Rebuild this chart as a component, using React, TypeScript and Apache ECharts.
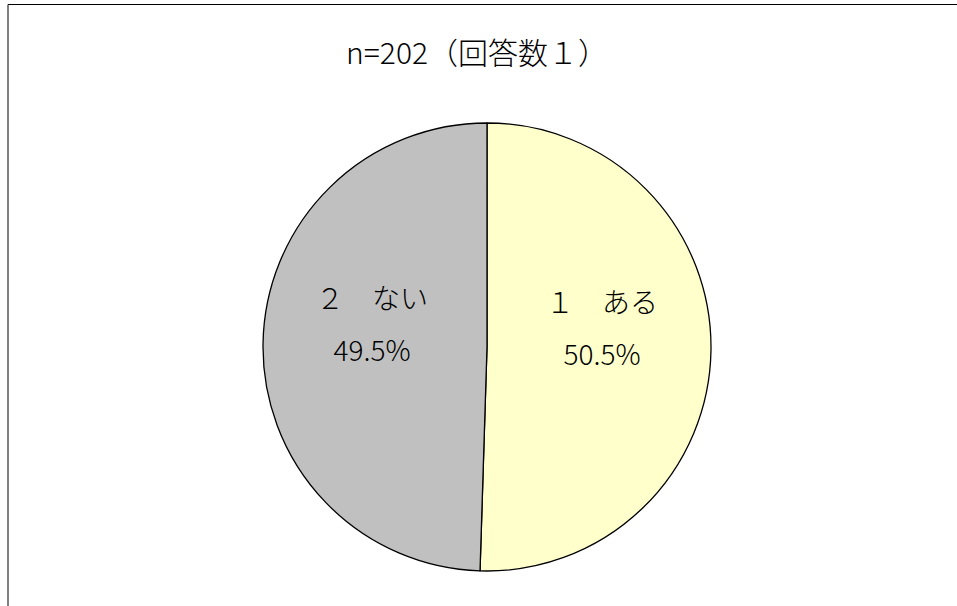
import React, { useEffect, useRef } from "react";
import * as echarts from "echarts";

const categories = ["１　ある", "２　ない"];
const counts = [102, 100];
const percents = ["50.5%", "49.5%"];
const colors = ["#FFFFCC", "#C0C0C0"];
const titleText = "n=202（回答数１）";

export default function App() {
  const ref = useRef<HTMLDivElement>(null);
  useEffect(() => {
    document.body.style.margin = "0";
    const chart = echarts.init(ref.current!, undefined, { renderer: "svg" });
    const font = "'Noto Sans CJK JP', 'Noto Sans', sans-serif";
    chart.setOption({
      animation: false,
      backgroundColor: "#ffffff",
      title: {
        text: titleText,
        left: 472,
        top: 31,
        textAlign: "center",
        textStyle: { fontFamily: font, fontSize: 30, fontWeight: 300, color: "#000" },
      },
      graphic: [
        {
          type: "polyline",
          shape: { points: [[8, 620], [8, 4.5], [970, 4.5]] },
          style: { stroke: "#000", lineWidth: 1, fill: "none" },
          silent: true,
        },
      ],
      series: [
        {
          type: "pie",
          center: [487, 347],
          radius: 224,
          startAngle: 90,
          clockwise: true,
          avoidLabelOverlap: false,
          itemStyle: { borderColor: "#000", borderWidth: 1.3 },
          label: {
            show: true,
            position: "inside",
            offset: [0, -22],
            formatter: (p: any) => `${p.name}\n${percents[p.dataIndex]}`,
            fontFamily: font,
            fontSize: 28,
            fontWeight: 300,
            lineHeight: 52,
            color: "#000",
          },
          labelLine: { show: false },
          emphasis: { disabled: true },
          data: categories.map((c, i) => ({
            name: c,
            value: counts[i],
            itemStyle: { color: colors[i] },
          })),
        },
      ],
    });
    return () => chart.dispose();
  }, []);
  return <div ref={ref} style={{ width: 957, height: 606 }} />;
}
